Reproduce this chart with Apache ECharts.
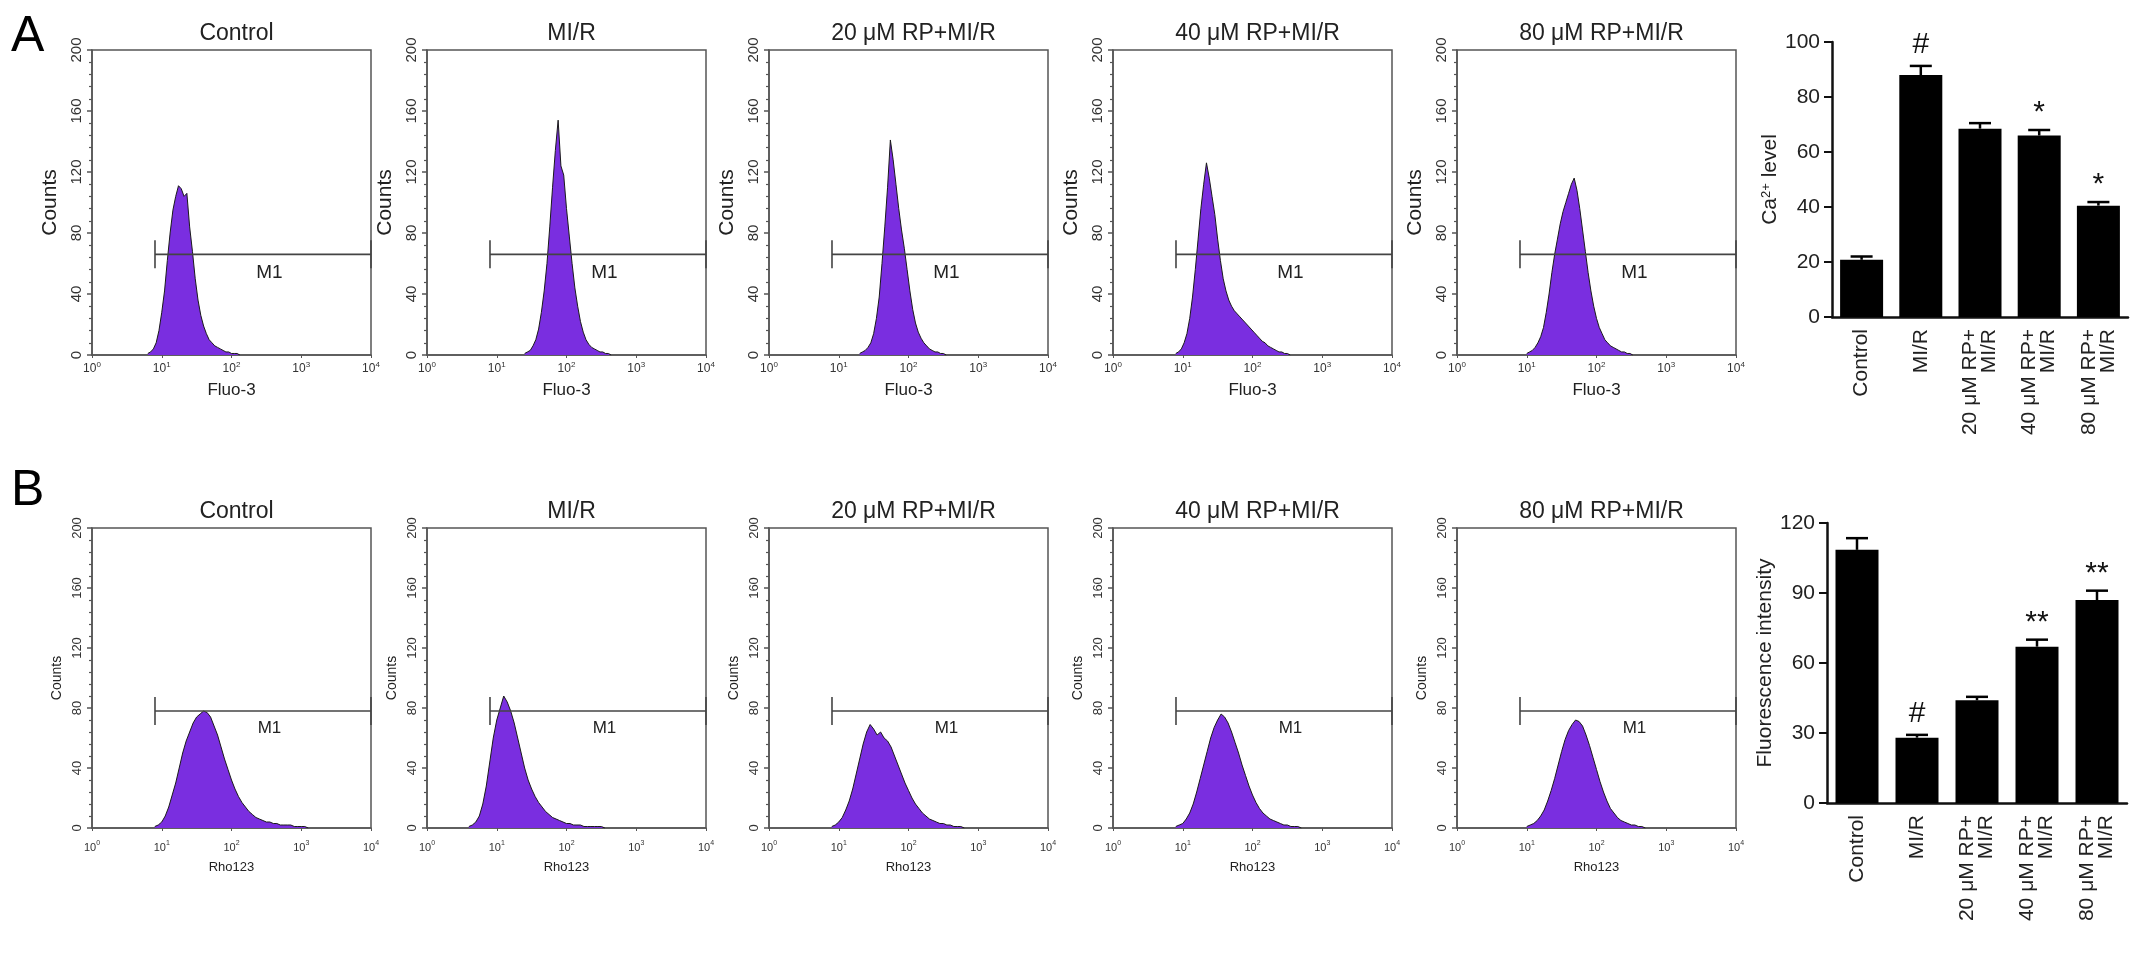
<!DOCTYPE html>
<html>
<head>
<meta charset="utf-8">
<script src="https://cdn.jsdelivr.net/npm/echarts@6/dist/echarts.min.js"></script>
<style>
  html, body { margin: 0; padding: 0; background: #fff; }
  #chart { width: 2150px; height: 975px; }
</style>
</head>
<body>
<div id="chart"></div>
<script>
// ---- data ----
const groups = ['Control', 'MI/R', '20 μM RP+MI/R', '40 μM RP+MI/R', '80 μM RP+MI/R'];
const barCats = ['Control', 'MI/R', '20 μM RP+\nMI/R', '40 μM RP+\nMI/R', '80 μM RP+\nMI/R'];

// Fluo-3 histograms: counts per channel, channels spaced fluoStep decades from fluoStart
const fluoStep = 0.04;
const fluoStart = [0.80, 1.40, 1.30, 0.90, 1.00];
const fluoControl = [1, 2, 4, 8, 16, 28, 42, 62, 80, 95, 104, 111, 109, 104, 106, 84, 68, 50, 36, 26, 19, 14, 10, 8, 6, 5, 4, 3, 2, 2, 1, 1, 1, 0];
const fluoMIR = [1, 2, 3, 6, 10, 17, 28, 42, 60, 84, 110, 134, 154, 124, 118, 96, 78, 60, 44, 32, 22, 15, 10, 7, 5, 4, 3, 2, 2, 1, 1, 0];
const fluoRP20 = [1, 2, 3, 5, 8, 14, 24, 38, 60, 84, 110, 141, 128, 112, 96, 82, 70, 56, 42, 30, 21, 15, 11, 8, 6, 4, 3, 2, 2, 1, 1, 0];
const fluoRP40 = [1, 2, 4, 8, 14, 24, 38, 56, 76, 96, 112, 126, 116, 104, 92, 76, 62, 50, 42, 36, 32, 29, 27, 25, 23, 21, 19, 17, 15, 13, 11, 9, 8, 6, 5, 4, 3, 2, 2, 1, 1, 0];
const fluoRP80 = [1, 2, 3, 5, 8, 12, 18, 28, 40, 54, 66, 76, 86, 94, 100, 106, 112, 116, 108, 96, 82, 68, 54, 42, 32, 24, 18, 14, 10, 8, 6, 5, 4, 3, 2, 2, 1, 1, 0];

// Rho123 histograms
const rhoStep = 0.05;
const rhoStart = [0.90, 0.60, 0.90, 0.90, 1.00];
const rhoControl = [1, 2, 4, 8, 14, 22, 30, 40, 50, 58, 64, 70, 74, 76, 78, 77, 74, 68, 62, 54, 46, 39, 32, 26, 21, 17, 14, 11, 9, 7, 6, 5, 4, 4, 3, 3, 2, 2, 2, 2, 1, 1, 1, 1, 0];
const rhoMIR = [1, 2, 4, 8, 16, 28, 44, 60, 72, 80, 88, 84, 78, 70, 60, 50, 40, 32, 26, 21, 17, 14, 11, 9, 7, 6, 5, 4, 3, 3, 2, 2, 2, 1, 1, 1, 1, 1, 1, 0];
const rhoRP20 = [1, 2, 4, 7, 12, 18, 26, 36, 46, 56, 64, 69, 66, 62, 64, 60, 58, 54, 48, 42, 36, 30, 25, 20, 16, 13, 10, 8, 6, 5, 4, 3, 3, 2, 2, 1, 1, 1, 0];
const rhoRP40 = [1, 2, 3, 6, 10, 16, 24, 33, 42, 51, 60, 67, 72, 76, 74, 70, 64, 57, 50, 42, 35, 28, 22, 17, 13, 10, 8, 6, 5, 4, 3, 2, 2, 1, 1, 1, 0];
const rhoRP80 = [1, 2, 3, 5, 8, 12, 18, 25, 33, 42, 51, 59, 65, 69, 72, 71, 68, 62, 55, 47, 39, 31, 24, 18, 13, 10, 7, 5, 4, 3, 2, 2, 1, 1, 0];

// M1 gate: [low, high] fluorescence, count level, label position
const gateRange = [8, 10000];
const gateLevelFluo = 66;
const gateLevelRho = 78;
const gateLabelX = 350;

// bar charts
const caLevel = [20.8, 88, 68.5, 66, 40.5];
const caErr = [1.2, 3.3, 2.0, 2.0, 1.3];
const caSig = ['', '#', '', '*', '*'];
const rhoLevel = [108.5, 28, 44, 67, 87];
const rhoErr = [5, 1.2, 1.5, 3, 4];
const rhoSig = ['', '#', '', '**', '**'];

// ---- layout ----
const FONT = '"Liberation Sans", Arial, Helvetica, sans-serif';
const PURPLE = '#7a2ee0';
const panelLeft = [92, 427, 769, 1113, 1457];
const panelW = 279;
const rows = [
  { top: 50, height: 305, name: 'Fluo-3', start: fluoStart, step: fluoStep,
    hists: [fluoControl, fluoMIR, fluoRP20, fluoRP40, fluoRP80], gate: gateLevelFluo,
    titleTop: 17, tickFont: 15, nameFont: 21, nameGap: 31, xFont: 12, xNameFont: 17, m1Font: 19 },
  { top: 528, height: 300, name: 'Rho123', start: rhoStart, step: rhoStep,
    hists: [rhoControl, rhoMIR, rhoRP20, rhoRP40, rhoRP80], gate: gateLevelRho,
    titleTop: 495, tickFont: 13, nameFont: 14, nameGap: 28, xFont: 11, xNameFont: 13, m1Font: 17 }
];

const grid = [], xAxis = [], yAxis = [], series = [], title = [];

rows.forEach((row, r) => {
  groups.forEach((g, i) => {
    const idx = grid.length;
    grid.push({ left: panelLeft[i], top: row.top, width: panelW, height: row.height,
      show: true, borderColor: '#555', borderWidth: 1.5 });
    title.push({ text: g, left: panelLeft[i] + panelW / 2, top: row.titleTop, textAlign: 'center',
      textStyle: { fontFamily: FONT, fontSize: 23, fontWeight: 'normal', color: '#222' } });
    xAxis.push({
      gridIndex: idx, type: 'log', logBase: 10, min: 1, max: 10000,
      name: row.name, nameLocation: 'middle', nameGap: r === 0 ? 27 : 33,
      nameTextStyle: { fontFamily: FONT, fontSize: row.xNameFont, color: '#222' },
      axisLine: { lineStyle: { color: '#555', width: 1.5 } },
      axisTick: { show: true, length: 3, lineStyle: { color: '#555' } },
      splitLine: { show: false },
      axisLabel: {
        margin: r === 0 ? 6 : 12,
        formatter: v => '{b|10}{s|' + Math.round(Math.log10(v)) + '}',
        rich: {
          b: { fontFamily: FONT, fontSize: row.xFont, color: '#333', lineHeight: row.xFont + 4 },
          s: { fontFamily: FONT, fontSize: row.xFont - 4, color: '#333', verticalAlign: 'top', lineHeight: row.xFont - 2 }
        }
      }
    });
    yAxis.push({
      gridIndex: idx, type: 'value', min: 0, max: 200, interval: 40,
      name: 'Counts', nameLocation: 'middle', nameGap: row.nameGap, nameRotate: 90,
      nameTextStyle: { fontFamily: FONT, fontSize: row.nameFont, color: '#222' },
      axisLine: { show: true, lineStyle: { color: '#555', width: 1.5 } },
      axisTick: { show: true, length: 5, lineStyle: { color: '#555', width: 1.5 } },
      minorTick: { show: true, splitNumber: 5, length: 3, lineStyle: { color: '#555', width: 1.2 } },
      splitLine: { show: false },
      axisLabel: { rotate: 90, margin: 8, fontFamily: FONT, fontSize: row.tickFont, color: '#333' }
    });
    const counts = row.hists[i];
    series.push({
      type: 'line', xAxisIndex: idx, yAxisIndex: idx, symbol: 'none', silent: true,
      data: counts.map((c, k) => [Math.pow(10, row.start[i] + k * row.step), c]),
      lineStyle: { color: '#1a1a1a', width: 1 },
      areaStyle: { color: PURPLE, opacity: 1 }
    });
    series.push({
      type: 'custom', xAxisIndex: idx, yAxisIndex: idx, silent: true, z: 5,
      data: [[gateRange[0], gateRange[1], row.gate, gateLabelX]],
      renderItem: (params, api) => {
        const lo = api.coord([api.value(0), api.value(2)]);
        const hi = api.coord([api.value(1), api.value(2)]);
        const lab = api.coord([api.value(3), api.value(2)]);
        const h = 14, st = { stroke: '#444', lineWidth: 1.6 };
        return { type: 'group', children: [
          { type: 'line', shape: { x1: lo[0], y1: lo[1], x2: hi[0], y2: hi[1] }, style: st },
          { type: 'line', shape: { x1: lo[0], y1: lo[1] - h, x2: lo[0], y2: lo[1] + h }, style: st },
          { type: 'line', shape: { x1: hi[0], y1: hi[1] - h, x2: hi[0], y2: hi[1] + h }, style: st },
          { type: 'text', x: lab[0], y: lab[1] + 9, style: { text: 'M1', fill: '#222',
            font: row.m1Font + 'px ' + FONT, textAlign: 'center', textVerticalAlign: 'top' } }
        ] };
      }
    });
  });
});

// bar charts
const bars = [
  { left: 1832, top: 42, width: 296, height: 275, max: 100, interval: 20,
    name: '{n|Ca}{s|2+}{n| level}', vals: caLevel, err: caErr, sig: caSig, nameGap: 44 },
  { left: 1827, top: 523, width: 300, height: 280, max: 120, interval: 30,
    name: '{n|Fluorescence intensity}', vals: rhoLevel, err: rhoErr, sig: rhoSig, nameGap: 42 }
];
bars.forEach(b => {
  const idx = grid.length;
  grid.push({ left: b.left, top: b.top, width: b.width, height: b.height });
  xAxis.push({
    gridIndex: idx, type: 'category', data: barCats,
    axisLine: { lineStyle: { color: '#111', width: 2.5 } },
    axisTick: { alignWithLabel: true, length: 8, lineStyle: { color: '#111', width: 2 } },
    axisLabel: { rotate: 90, margin: 12, interval: 0, fontFamily: FONT, fontSize: 21, lineHeight: 19, color: '#222' }
  });
  yAxis.push({
    gridIndex: idx, type: 'value', min: 0, max: b.max, interval: b.interval,
    name: b.name, nameLocation: 'middle', nameGap: b.nameGap, nameRotate: 90,
    nameTextStyle: { rich: {
      n: { fontFamily: FONT, fontSize: 21, color: '#222' },
      s: { fontFamily: FONT, fontSize: 13, color: '#222', verticalAlign: 'top' }
    } },
    axisLine: { show: true, lineStyle: { color: '#111', width: 2.5 } },
    axisTick: { show: true, length: 8, lineStyle: { color: '#111', width: 2 } },
    splitLine: { show: false },
    axisLabel: { margin: 12, fontFamily: FONT, fontSize: 21, color: '#222' }
  });
  series.push({
    type: 'bar', xAxisIndex: idx, yAxisIndex: idx, data: b.vals, barWidth: 43,
    itemStyle: { color: '#000' }, silent: true
  });
  series.push({
    type: 'custom', xAxisIndex: idx, yAxisIndex: idx, silent: true, z: 5,
    data: b.vals.map((v, i) => [i, v, v + b.err[i]]),
    renderItem: (params, api) => {
      const base = api.coord([api.value(0), api.value(1)]);
      const top = api.coord([api.value(0), api.value(2)]);
      const sig = b.sig[params.dataIndex];
      const st = { stroke: '#000', lineWidth: 2.5 };
      const kids = [
        { type: 'line', shape: { x1: base[0], y1: base[1], x2: top[0], y2: top[1] }, style: st },
        { type: 'line', shape: { x1: top[0] - 11, y1: top[1], x2: top[0] + 11, y2: top[1] }, style: st }
      ];
      if (sig) {
        const hash = sig === '#';
        kids.push({ type: 'text', x: top[0], y: top[1] - (hash ? 6 : 2), style: { text: sig, fill: '#111',
          font: '30px ' + FONT, textAlign: 'center', textVerticalAlign: 'bottom' } });
      }
      return { type: 'group', children: kids };
    }
  });
});

const chart = echarts.init(document.getElementById('chart'));
chart.setOption({
  animation: false,
  backgroundColor: '#fff',
  title: title,
  grid: grid,
  xAxis: xAxis,
  yAxis: yAxis,
  series: series,
  graphic: [
    { type: 'text', left: 11, top: 12, style: { text: 'A', font: '50px ' + FONT, fill: '#000' } },
    { type: 'text', left: 11, top: 466, style: { text: 'B', font: '50px ' + FONT, fill: '#000' } }
  ]
});
</script>
</body>
</html>
